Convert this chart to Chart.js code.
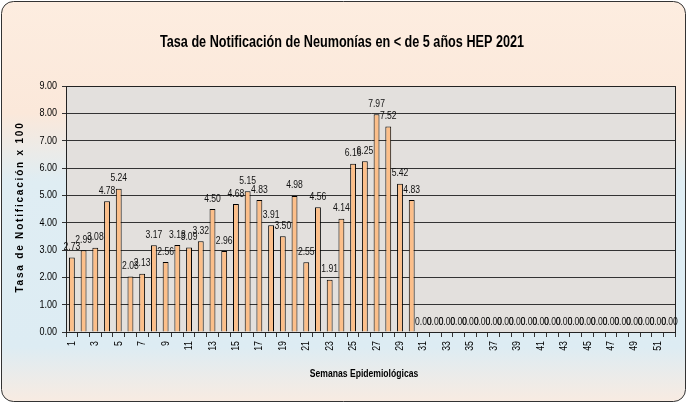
<!DOCTYPE html>
<html>
<head>
<meta charset="utf-8">
<script src="https://cdn.jsdelivr.net/npm/chart.js@4.4.1/dist/chart.umd.min.js"></script>
<style>
  html, body { margin: 0; padding: 0; background: #fff; }
  #wrap { position: relative; width: 687px; height: 403px; }
</style>
</head>
<body>
<div id="wrap"><canvas id="tasa" width="687" height="403"></canvas></div>
<script>
// semanas 1..52
const semanas = [];
for (let i = 1; i <= 52; i++) semanas.push(String(i));

// tasa por semana (semanas 31-52 en cero)
const tasa = [2.73, 2.99, 3.08, 4.78, 5.24, 2.03, 2.13, 3.17, 2.56, 3.18,
  3.09, 3.32, 4.50, 2.96, 4.68, 5.15, 4.83, 3.91, 3.50, 4.98,
  2.55, 4.56, 1.91, 4.14, 6.16, 6.25, 7.97, 7.52, 5.42, 4.83,
  0, 0, 0, 0, 0, 0, 0, 0, 0, 0,
  0, 0, 0, 0, 0, 0, 0, 0, 0, 0,
  0, 0];

const titulo = 'Tasa de Notificación de Neumonías en < de 5 años HEP 2021';
const tituloY = 'Tasa de Notificación x 100';
const tituloX = 'Semanas Epidemiológicas';
const sans = '"Liberation Sans", Arial, sans-serif';

// texto comprimido a lo ancho (como Arial Narrow)
function texto(ctx, str, x, y, sx, rot) {
  ctx.save();
  ctx.translate(x, y);
  if (rot) ctx.rotate(rot);
  ctx.scale(sx, 1);
  ctx.fillText(str, 0, 0);
  ctx.restore();
}

const fondo = {
  id: 'fondo',
  beforeDraw(chart) {
    const ctx = chart.ctx, a = chart.chartArea;
    ctx.save();
    const g = ctx.createLinearGradient(0, 0, 0, 403);
    g.addColorStop(0, '#fdede0');
    g.addColorStop(0.28, '#fbe8da');
    g.addColorStop(0.45, '#dfedf3');
    g.addColorStop(0.86, '#ddecf3');
    g.addColorStop(1, '#f9ebe1');
    ctx.fillStyle = g;
    ctx.beginPath();
    ctx.roundRect(1.5, 1.5, 684, 400, 12);
    ctx.fill();
    ctx.strokeStyle = '#333';
    ctx.lineWidth = 1;
    ctx.stroke();
    ctx.fillStyle = '#e3e0dd';
    ctx.fillRect(a.left, a.top, a.right - a.left, a.bottom - a.top);

    ctx.fillStyle = '#000';
    ctx.textAlign = 'center';
    ctx.textBaseline = 'middle';
    ctx.font = 'bold 16px ' + sans;
    texto(ctx, titulo, 342, 43, 0.79);
    ctx.font = 'bold 10px ' + sans;
    texto(ctx, tituloX, 364, 374, 0.86);
    ctx.letterSpacing = '1.8px';
    texto(ctx, tituloY, 20, 207, 1, -Math.PI / 2);
    ctx.letterSpacing = '0px';

    // etiquetas de ejes
    ctx.font = '11px ' + sans;
    const ys = chart.scales.y;
    ctx.textAlign = 'right';
    ys.ticks.forEach(t => {
      texto(ctx, t.value.toFixed(2), a.left - 9, ys.getPixelForValue(t.value), 0.82);
    });
    const xs = chart.scales.x;
    semanas.forEach((s, i) => {
      if (i % 2 === 0) texto(ctx, s, xs.getPixelForValue(i), a.bottom + 9, 0.8, -Math.PI / 2);
    });
    ctx.restore();
  },
  afterDatasetsDraw(chart) {
    const ctx = chart.ctx, a = chart.chartArea;
    ctx.save();
    ctx.strokeStyle = '#222';
    ctx.lineWidth = 1;
    ctx.strokeRect(Math.round(a.left) + 0.5, Math.round(a.top) + 0.5, Math.round(a.right - a.left), Math.round(a.bottom - a.top));
    // etiquetas de valores
    ctx.fillStyle = '#111';
    ctx.font = '11px ' + sans;
    ctx.textAlign = 'center';
    ctx.textBaseline = 'bottom';
    chart.getDatasetMeta(0).data.forEach((bar, i) => {
      texto(ctx, tasa[i].toFixed(2), bar.x, bar.y - 5, 0.78);
    });
    ctx.restore();
  }
};

new Chart(document.getElementById('tasa'), {
  type: 'bar',
  data: {
    labels: semanas,
    datasets: [{
      data: tasa,
      backgroundColor: '#fcbf8a',
      borderColor: '#000',
      borderWidth: 1,
      barPercentage: 0.5,
      categoryPercentage: 1
    }]
  },
  options: {
    responsive: false,
    animation: false,
    layout: { padding: { left: 12, right: 7, top: 86, bottom: 20 } },
    plugins: { legend: { display: false }, tooltip: { enabled: false } },
    scales: {
      x: {
        afterFit: s => { s.height = 51; },
        grid: { offset: true, drawOnChartArea: false, color: '#333', tickLength: 5 },
        border: { color: '#000' },
        ticks: { autoSkip: false, minRotation: 90, maxRotation: 90, color: 'rgba(0,0,0,0)' }
      },
      y: {
        min: 0, max: 9,
        afterFit: s => { s.width = 54; },
        grid: { color: '#333', tickLength: 4 },
        border: { color: '#000' },
        ticks: { stepSize: 1, color: 'rgba(0,0,0,0)' }
      }
    }
  },
  plugins: [fondo]
});
</script>
</body>
</html>
